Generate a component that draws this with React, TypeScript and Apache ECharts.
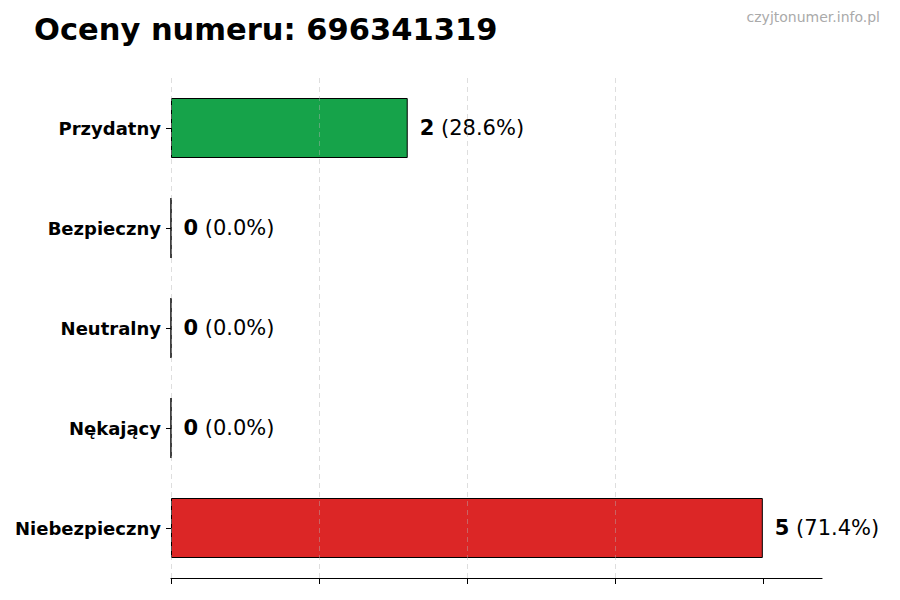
import React, { useEffect, useRef } from "react";
import * as echarts from "echarts";

const categories = ["Przydatny", "Bezpieczny", "Neutralny", "Nękający", "Niebezpieczny"];
const counts = [2, 0, 0, 0, 5];
const barColors = ["#16a34a", "#16a34a", "#9ca3af", "#f59e0b", "#dc2626"];
const xTicks = [0, 1.25, 2.5, 3.75, 5];

const FONT = "'DejaVu Sans', sans-serif";

const App: React.FC = () => {
  const chartRef = useRef<HTMLDivElement | null>(null);

  useEffect(() => {
    if (!chartRef.current) return;
    const chart = echarts.init(chartRef.current, undefined, { renderer: "svg" });
    const total = counts.reduce((a, b) => a + b, 0);

    const option = {
      animation: false,
      backgroundColor: "#ffffff",
      title: [
        {
          text: "Oceny numeru: 696341319",
          left: 29,
          top: 9,
          textStyle: { fontFamily: FONT, fontSize: 30.5, fontWeight: "bold", color: "#000" },
        },
        {
          text: "czyjtonumer.info.pl",
          right: 15,
          top: 5,
          textStyle: { fontFamily: FONT, fontSize: 14, fontWeight: "normal", color: "#aaaaaa" },
        },
      ],
      grid: { left: 171, right: 78, top: 78, bottom: 22 },
      xAxis: {
        type: "value",
        min: 0,
        max: 5.5,
        interval: 1.25,
        z: 5,
        axisLine: { show: true, onZero: false, lineStyle: { color: "#000", width: 1.2 } },
        axisTick: { show: true, length: 6, customValues: xTicks, lineStyle: { color: "#000" } },
        axisLabel: { show: false },
        splitLine: {
          show: true,
          showMaxLine: false,
          lineStyle: { color: "rgba(180,180,180,0.55)", type: [5, 4], width: 0.8 },
        },
      },
      yAxis: {
        type: "category",
        inverse: true,
        data: categories,
        axisLine: { show: false },
        axisTick: { show: true, length: 5, alignWithLabel: true, lineStyle: { color: "#000" } },
        axisLabel: {
          fontFamily: FONT,
          fontSize: 18,
          fontWeight: "bold",
          color: "#000",
          margin: 10,
        },
      },
      series: [
        {
          type: "bar",
          barWidth: "60%",
          data: counts.map((v, i) => ({
            value: v,
            itemStyle: { color: barColors[i] },
          })),
          itemStyle: { borderColor: "#000", borderWidth: 1 },
          label: {
            show: true,
            position: "right",
            distance: 12,
            formatter: (p: any) =>
              `{b|${p.value}}{n| (${((p.value / total) * 100).toFixed(1)}%)}`,
            rich: {
              b: { fontFamily: FONT, fontSize: 21, fontWeight: "bold", color: "#000" },
              n: { fontFamily: FONT, fontSize: 21, color: "#000" },
            },
          },
        },
      ],
    };

    chart.setOption(option);
    return () => chart.dispose();
  }, []);

  return <div ref={chartRef} style={{ width: 900, height: 600, position: "absolute", left: 0, top: 0 }} />;
};

export default App;
